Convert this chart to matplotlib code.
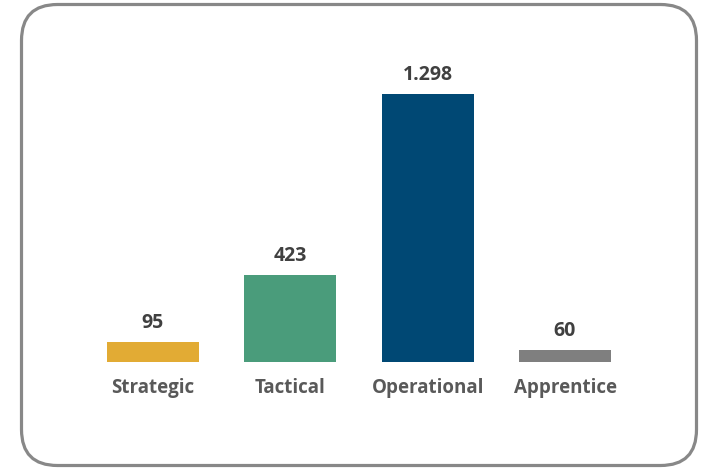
import matplotlib
matplotlib.use("Agg")
import matplotlib.pyplot as plt
from matplotlib.patches import FancyBboxPatch

categories = ["Strategic", "Tactical", "Operational", "Apprentice"]
values = [95, 423, 1298, 60]
value_labels = ["95", "423", "1.298", "60"]
colors = ["#E2AB34", "#4A9C7B", "#004874", "#7F7F7F"]

W, H = 708, 469
fig = plt.figure(figsize=(W / 100, H / 100), dpi=100)

# background frame in pixel units
bg = fig.add_axes([0, 0, 1, 1])
bg.set_xlim(0, W)
bg.set_ylim(H, 0)
bg.axis("off")
frame = FancyBboxPatch((21.5, 4.5), 675, 461,
                       boxstyle="round,pad=0,rounding_size=36",
                       fill=False, edgecolor="#888888", linewidth=2.3)
bg.add_patch(frame)

# bars: centres at 153..565 px, baseline at y=362, tallest top at y=94
step = (565 - 153) / 3
left = 153 - step / 2
ax = fig.add_axes([left / W, (H - 362) / H, 4 * step / W, (362 - 94) / H])
ax.bar(range(len(values)), values, width=0.67, color=colors)
ax.set_xlim(-0.5, 3.5)
ax.set_ylim(0, max(values))
ax.axis("off")

for i, (v, lab) in enumerate(zip(values, value_labels)):
    ax.annotate(lab, (i, v), xytext=(0, 10), textcoords="offset points",
                ha="center", va="baseline", fontsize=14, fontweight="bold",
                color="#404040", family="Open Sans")
    ax.annotate(categories[i], (i, 0), xytext=(0, -19), textcoords="offset points",
                ha="center", va="center", fontsize=13.5, fontweight="bold",
                color="#595959", family="Open Sans")

fig.savefig("out.png", dpi=100)
